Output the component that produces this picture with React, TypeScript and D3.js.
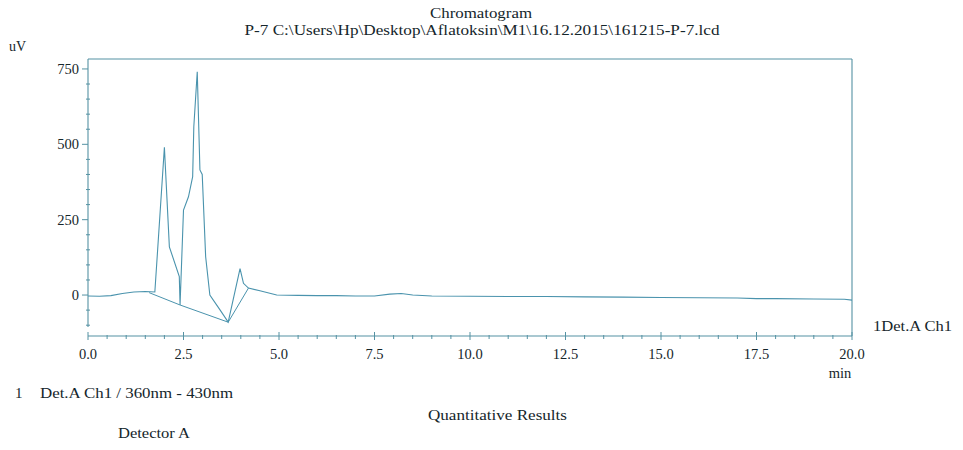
import React from "react";
import * as d3 from "d3";

const times = [0, 0.3, 0.6, 0.9, 1.2, 1.5, 1.75, 2.0, 2.13, 2.39, 2.41, 2.5, 2.63, 2.74, 2.77, 2.86, 2.93, 2.99, 3.08, 3.19, 3.46, 3.67, 3.98, 4.07, 4.2, 4.5, 4.94, 5.5, 6.0, 6.5, 7.0, 7.5, 7.9, 8.2, 8.5, 9.0, 10, 11, 12, 13, 14, 15, 16, 17, 17.5, 18, 19, 19.8, 20.0];
const values = [-3, -4, -2, 5, 10, 12, 10, 490, 160, 61, -33, 282, 326, 393, 558, 741, 415, 400, 127, 0, -50, -90, 88, 39, 23, 14, 0, -1, -2, -2, -3, -3, 3, 5, 0, -3, -4, -5, -5, -6, -7, -8, -9, -10, -12, -12, -13, -14, -17];

const baseline1Times = [1.6, 2.41, 3.67];
const baseline1Values = [8, -33, -90];
const baseline2Times = [3.67, 4.2];
const baseline2Values = [-90, 23];

const xMajorTicks = [0, 2.5, 5, 7.5, 10, 12.5, 15, 17.5, 20];
const yMajorTicks = [0, 250, 500, 750];

const titleLine1 = "Chromatogram";
const titleLine2 = "P-7 C:\\Users\\Hp\\Desktop\\Aflatoksin\\M1\\16.12.2015\\161215-P-7.lcd";

export default function App() {
  const left = 88, right = 852, top = 59, yBottom = 327, xAxisY = 336;
  const x = d3.scaleLinear().domain([0, 20]).range([left, right]);
  const y = d3.scaleLinear().domain([-106, 783]).range([yBottom, top]);
  const lineColor = "#4a93ad";
  const axisColor = "#5592a3";
  const textColor = "#15262b";
  const font = '"Liberation Serif", "Times New Roman", "DejaVu Serif", serif';
  const ts = { fontFamily: font };

  const pts: [number, number][] = times.map((t, i) => [t, values[i]]);
  const line = d3.line<[number, number]>().x(d => x(d[0])).y(d => y(d[1]));
  const b1: [number, number][] = baseline1Times.map((t, i) => [t, baseline1Values[i]]);
  const b2: [number, number][] = baseline2Times.map((t, i) => [t, baseline2Values[i]]);

  const xMinor = d3.range(0, 20.001, 0.5).filter(v => !xMajorTicks.some(m => Math.abs(m - v) < 1e-6));
  const yMinor = d3.range(-100, 751, 50).filter(v => !yMajorTicks.includes(v));

  return (
    <svg width={963} height={450} style={{ position: "absolute", left: 0, top: 0, background: "#fff", fontFamily: font }}>
      <rect width={963} height={450} fill="#fff" />
      <g fill={textColor} fontSize={14.5} style={ts}>
        <text x={481} y={18} textAnchor="middle" textLength={102} lengthAdjust="spacingAndGlyphs" style={ts}>{titleLine1}</text>
        <text x={482} y={35} textAnchor="middle" textLength={475} lengthAdjust="spacingAndGlyphs" style={ts}>{titleLine2}</text>
        <text x={9} y={51} fontSize={14} style={ts}>uV</text>
      </g>

      {/* frame */}
      <g stroke={axisColor} strokeWidth={1.1} fill="none">
        <line x1={left} x2={right} y1={top} y2={top} />
        <line x1={left} x2={left} y1={top} y2={yBottom} />
        <line x1={right} x2={right} y1={top} y2={xAxisY} />
        <line x1={left} x2={right} y1={xAxisY} y2={xAxisY} />
      </g>

      {/* y ticks */}
      <g stroke={axisColor} strokeWidth={1}>
        {yMajorTicks.map(v => (
          <line key={"ym" + v} x1={left - 6} x2={left} y1={y(v)} y2={y(v)} />
        ))}
        {yMinor.map(v => (
          <line key={"yn" + v} x1={left - 2} x2={left + 2} y1={y(v)} y2={y(v)} />
        ))}
      </g>
      <g fill={textColor} fontSize={14.5} textAnchor="end" style={ts}>
        {yMajorTicks.map(v => (
          <text key={"yl" + v} x={79} y={y(v) + 5} style={ts}>{v}</text>
        ))}
      </g>

      {/* x ticks */}
      <g stroke={axisColor} strokeWidth={1}>
        {xMajorTicks.map(v => (
          <line key={"xm" + v} x1={x(v)} x2={x(v)} y1={xAxisY - 4} y2={xAxisY + 4} />
        ))}
        {xMinor.map(v => (
          <line key={"xn" + v} x1={x(v)} x2={x(v)} y1={xAxisY - 1} y2={xAxisY + 3} />
        ))}
      </g>
      <g fill={textColor} fontSize={14.5} textAnchor="middle" style={ts}>
        {xMajorTicks.map(v => (
          <text key={"xl" + v} x={x(v)} y={359} style={ts}>{v.toFixed(1)}</text>
        ))}
        <text x={840} y={378} style={ts}>min</text>
      </g>

      {/* trace */}
      <path d={line(pts) || ""} fill="none" stroke={lineColor} strokeWidth={1.1} />
      <path d={line(b1) || ""} fill="none" stroke={lineColor} strokeWidth={1} />
      <path d={line(b2) || ""} fill="none" stroke={lineColor} strokeWidth={1} />

      <g fill={textColor} fontSize={15} style={ts}>
        <text x={873} y={331} textLength={79} lengthAdjust="spacingAndGlyphs" style={ts}>1Det.A Ch1</text>
        <text x={15} y={398} style={ts}>1</text>
        <text x={40} y={398} textLength={193} lengthAdjust="spacingAndGlyphs" style={ts}>Det.A Ch1 / 360nm - 430nm</text>
        <text x={428} y={420} textLength={139} lengthAdjust="spacingAndGlyphs" style={ts}>Quantitative Results</text>
        <text x={118} y={438} textLength={72} lengthAdjust="spacingAndGlyphs" style={ts}>Detector A</text>
      </g>
    </svg>
  );
}
